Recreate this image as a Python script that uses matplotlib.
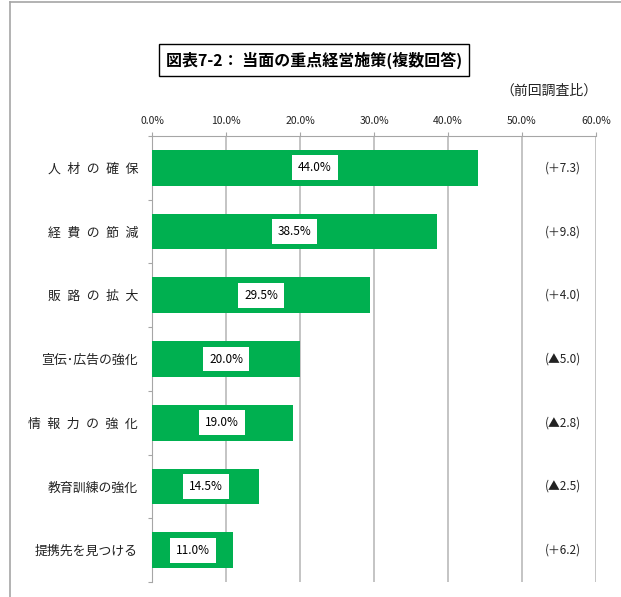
import matplotlib.pyplot as plt
from matplotlib.lines import Line2D
from matplotlib.ticker import FixedLocator, FuncFormatter

plt.rcParams['font.family'] = ['Noto Sans CJK JP', 'DejaVu Sans']

sp = '\u2002'
categories = [sp.join('人材の確保'), sp.join('経費の節減'), sp.join('販路の拡大'), '宣伝･広告の強化',
              sp.join('情報力の強化'), '教育訓練の強化', '提携先を見つける']
values = [44.0, 38.5, 29.5, 20.0, 19.0, 14.5, 11.0]
changes = ['(＋7.3)', '(＋9.8)', '(＋4.0)', '(▲5.0)', '(▲2.8)', '(▲2.5)', '(＋6.2)']
xticks = [0, 10, 20, 30, 40, 50, 60]

green = '#00b050'
gray = '#a6a6a6'

fig = plt.figure(figsize=(6.21, 5.97), dpi=100)
ax = fig.add_axes([0.2448, 0.0251, 0.715, 0.7471])

ypos = list(range(len(categories)))
ax.barh(ypos, values, height=0.56, color=green, zorder=3)

for y, v in zip(ypos, values):
    ax.text(v / 2, y, f'{v:.1f}%', ha='center', va='center', fontsize=8.5, zorder=4,
            bbox=dict(facecolor='white', edgecolor='none', boxstyle='square,pad=0.5'))

for y, c in zip(ypos, changes):
    ax.text(55.5, y, c, ha='center', va='center', fontsize=8.5, color='#222222')

ax.set_xlim(0, 60)
ax.set_ylim(len(categories) - 0.5, -0.5)

ax.xaxis.tick_top()
ax.set_xticks(xticks)
ax.xaxis.set_major_formatter(FuncFormatter(lambda x, p: f'{x:.1f}%'))
ax.tick_params(axis='x', length=3, width=0.8, color=gray, labelsize=7.5, pad=4,
               labelcolor='#222222')
ax.grid(axis='x', color='#bababa', linewidth=1.2, zorder=0)

ax.set_yticks(ypos)
ax.set_yticklabels(categories, fontsize=9.3)
ax.tick_params(axis='y', length=0, pad=10, labelcolor='#222222')
ax.yaxis.set_minor_locator(FixedLocator([i - 0.5 for i in range(len(categories) + 1)]))
ax.tick_params(axis='y', which='minor', length=3, width=0.8, color=gray)

for s in ['bottom', 'right']:
    ax.spines[s].set_visible(False)
for s in ['top', 'left']:
    ax.spines[s].set_color(gray)
    ax.spines[s].set_linewidth(0.8)

# outer frame (only left and top edges visible)
fig.add_artist(Line2D([10 / 621, 10 / 621], [0, 1 - 2 / 597], color=gray, linewidth=1.2))
fig.add_artist(Line2D([10 / 621, 1], [1 - 2 / 597, 1 - 2 / 597], color=gray, linewidth=1.2))

fig.text(314 / 621, 1 - 60 / 597, '図表7-2： 当面の重点経営施策(複数回答)', ha='center', va='center',
         fontsize=11.5, fontweight='bold',
         bbox=dict(facecolor='white', edgecolor='black', linewidth=1.0, boxstyle='square,pad=0.45'))
fig.text(549 / 621, 1 - 91 / 597, '（前回調査比）', ha='center', va='center', fontsize=10,
         color='#222222')

fig.savefig('out.png', dpi=100)
